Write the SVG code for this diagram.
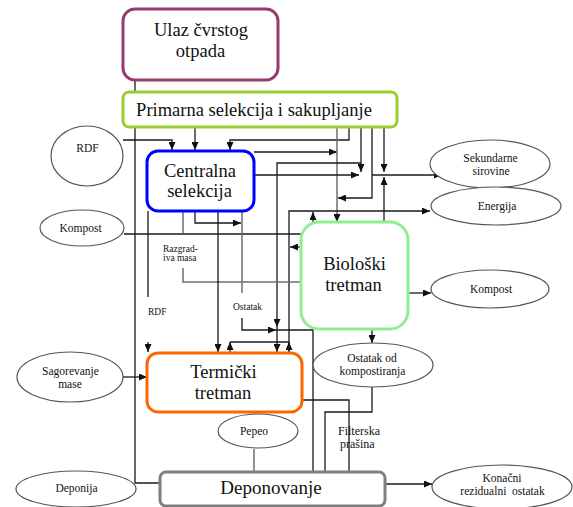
<svg xmlns="http://www.w3.org/2000/svg" width="573" height="507" viewBox="0 0 573 507">
<style>
.c{fill:none;stroke:#1a1a1a;stroke-width:1.3}
.g{fill:none;stroke:#6e6e6e;stroke-width:1.5}
.a{marker-end:url(#ah)}
.n{fill:#fff;stroke-width:3}
.e{fill:#fff;stroke:#555;stroke-width:1.2}
.t{font-family:"Liberation Serif","Times New Roman",serif;fill:#111;text-anchor:middle}
.big{font-size:18.5px}
.sm{font-size:11.5px}
.lb{font-family:"Liberation Serif","Times New Roman",serif;fill:#111;font-size:9.5px}
</style>
<defs>
<marker id="ah" markerUnits="userSpaceOnUse" markerWidth="8" markerHeight="7" viewBox="0 0 8 7" refX="8" refY="3.5" orient="auto"><path d="M0,0 L8,3.5 L0,7 z" fill="#111"/></marker>
</defs>
<rect width="573" height="507" fill="#fff"/>
<g id="connectors">
<path class="c" d="M135,80 V483 H160"/>
<path class="c a" d="M123,140 H172 V150"/>
<path class="c a" d="M195,127 V150"/>
<path class="c a" d="M349,127 V140 H230 V150"/>
<path class="c a" d="M254,152 H337"/>
<path class="g a" d="M337,127 V222"/>
<path class="c a" d="M372,127 V198 H338"/>
<path class="c a" d="M361,127 V172"/>
<path class="c a" d="M361,163 H277 V327"/>
<path class="c a" d="M277,327 V352"/>
<path class="c a" d="M254,175 H359"/>
<path class="c a" d="M372,175 H442"/>
<path class="c a" d="M384,127 V172"/>
<path class="c a" d="M384,222 V177"/>
<path class="c a" d="M289,352 V211 H430"/>
<path class="c a" d="M289,352 V342"/>
<path class="c a" d="M313,222 V212"/>
<path class="c a" d="M230,352 V342"/>
<path class="c" d="M230,342 H289"/>
<path class="c a" d="M301,247 H290"/>
<path class="c" d="M124,234 H301"/>
<path class="g" d="M183,211 V233 M183,268 V282 H301"/>
<path class="c a" d="M195,211 V223 H241"/>
<path class="g" d="M242,211 V293"/>
<path class="c a" d="M242,318 V330 H276"/>
<path class="c" d="M276,330 H313 V471"/>
<path class="c" d="M148,211 V297"/>
<path class="c a" d="M148,342 V352"/>
<path class="c a" d="M218,211 V352"/>
<path class="c a" d="M123,377 H147"/>
<path class="c a" d="M408,293 H431"/>
<path class="c a" d="M372,329 V343"/>
<path class="c" d="M302,400 H349 V471"/>
<path class="c" d="M372,387 V412 H325 V471"/>
<path class="g" d="M254,449 V472"/>
<path class="c a" d="M385,484 H432"/>
<text class="lb" x="163" y="252">Razgrad-</text>
<text class="lb" x="163" y="261">iva masa</text>
<text class="lb" x="148" y="315">RDF</text>
<text class="lb" x="233" y="310">Ostatak</text>
<text class="lb" x="338" y="435" style="font-size:12px">Filterska</text>
<text class="lb" x="340" y="448" style="font-size:12px">prašina</text>
</g>
<g id="ulaz">
<rect class="n" x="123" y="9" width="155" height="71" rx="12" stroke="#983b6e"/>
<text class="t big" x="201" y="36">Ulaz čvrstog</text>
<text class="t big" x="200.5" y="57">otpada</text>
</g>
<g id="primarna">
<rect class="n" x="123" y="92" width="274" height="35" rx="6" stroke="#9acd32"/>
<text class="t big" x="254" y="116">Primarna selekcija i sakupljanje</text>
</g>
<g id="centralna">
<rect class="n" x="147" y="151" width="107" height="60" rx="11" stroke="#0000ff"/>
<text class="t big" x="200" y="177">Centralna</text>
<text class="t big" x="199.5" y="197">selekcija</text>
</g>
<g id="bioloski">
<rect class="n" x="301" y="222" width="107" height="107" rx="18" stroke="#90ee90"/>
<text class="t big" x="354.5" y="270">Biološki</text>
<text class="t big" x="353.5" y="291">tretman</text>
</g>
<g id="termicki">
<rect class="n" x="147" y="353" width="155" height="59" rx="11" stroke="#ff6600"/>
<text class="t big" x="223.5" y="378">Termički</text>
<text class="t big" x="223" y="399">tretman</text>
</g>
<g id="deponovanje">
<rect class="n" x="160" y="472" width="225" height="34" rx="6" stroke="#7f7f7f"/>
<text class="t" x="271" y="494" style="font-size:19px">Deponovanje</text>
</g>
<g id="rdf">
<ellipse class="e" cx="87" cy="156" rx="36" ry="30"/>
<text class="t sm" x="87.5" y="152">RDF</text>
</g>
<g id="sekundarne">
<ellipse class="e" cx="490" cy="164" rx="60" ry="24"/>
<text class="t sm" x="490.5" y="162">Sekundarne</text>
<text class="t sm" x="491" y="175">sirovine</text>
</g>
<g id="energija">
<ellipse class="e" cx="496" cy="206" rx="65" ry="19"/>
<text class="t sm" x="497" y="210">Energija</text>
</g>
<g id="kompost1">
<ellipse class="e" cx="82" cy="228" rx="42" ry="18"/>
<text class="t sm" x="80.5" y="232">Kompost</text>
</g>
<g id="kompost2">
<ellipse class="e" cx="490" cy="289" rx="59" ry="19"/>
<text class="t sm" x="491" y="293">Kompost</text>
</g>
<g id="ostatak">
<ellipse class="e" cx="373" cy="365" rx="60" ry="22"/>
<text class="t sm" x="372" y="362">Ostatak od</text>
<text class="t sm" x="372.5" y="375">kompostiranja</text>
</g>
<g id="sagorevanje">
<ellipse class="e" cx="70" cy="377" rx="53" ry="25"/>
<text class="t sm" x="70.5" y="375">Sagorevanje</text>
<text class="t sm" x="70" y="388">mase</text>
</g>
<g id="pepeo">
<ellipse class="e" cx="258" cy="431" rx="40" ry="17"/>
<text class="t sm" x="254" y="435">Pepeo</text>
</g>
<g id="deponija">
<ellipse class="e" cx="76" cy="489" rx="60" ry="18"/>
<text class="t sm" x="76.5" y="492">Deponija</text>
</g>
<g id="konacni">
<ellipse class="e" cx="502" cy="487" rx="70" ry="22"/>
<text class="t sm" x="502" y="482">Konačni</text>
<text class="t sm" x="502.5" y="495" xml:space="preserve">rezidualni  ostatak</text>
</g>
</svg>
